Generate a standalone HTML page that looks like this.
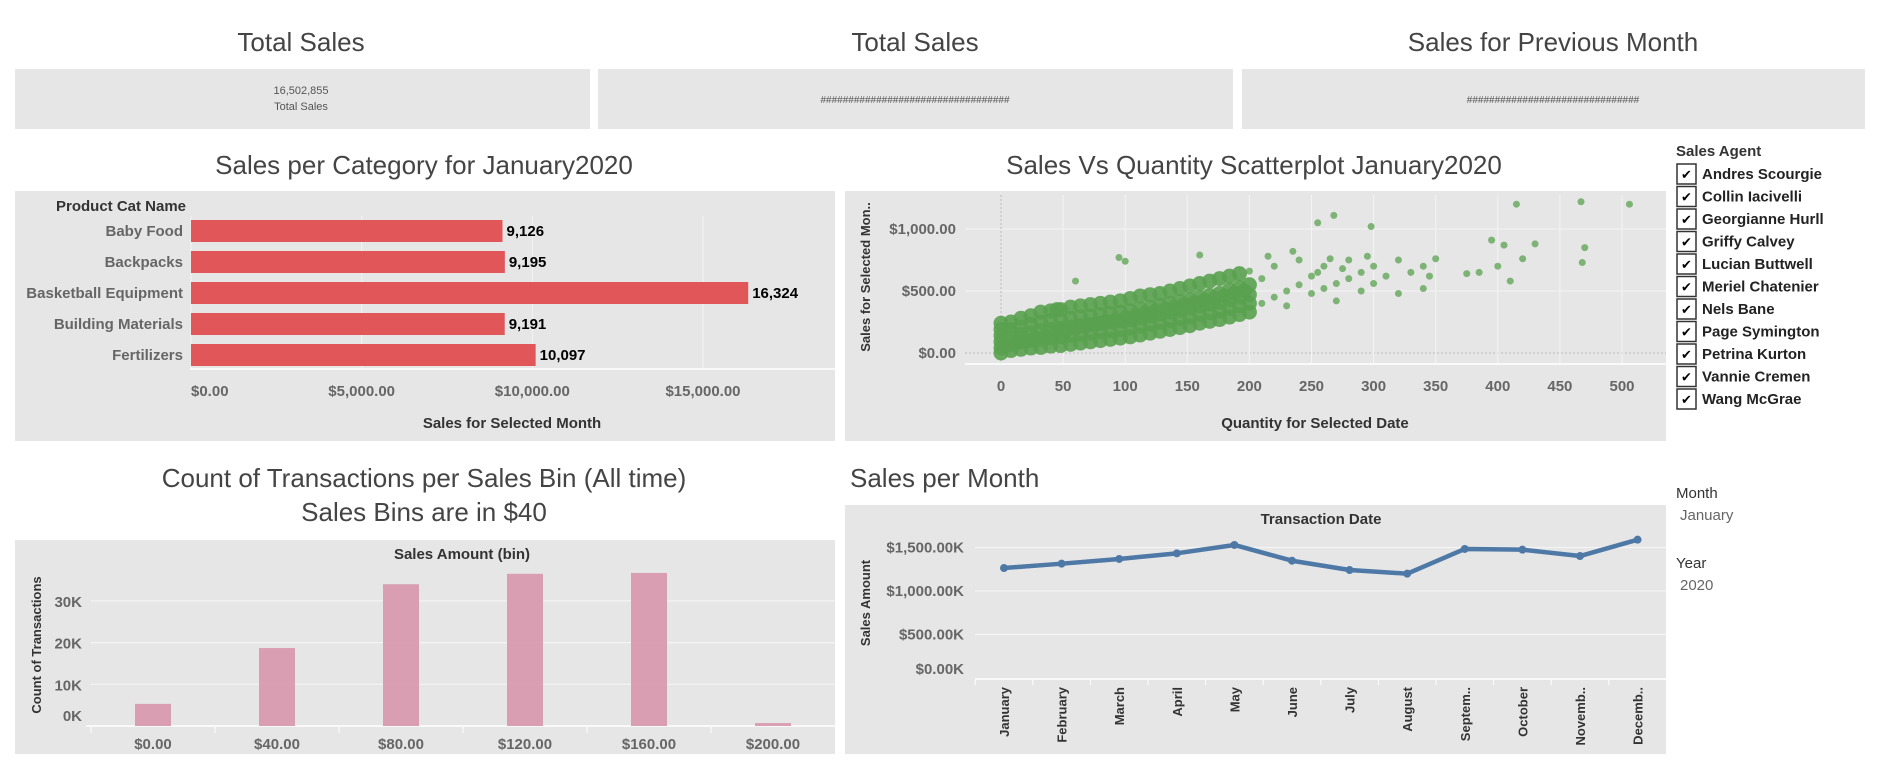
<!DOCTYPE html>
<html><head><meta charset="utf-8">
<style>
html,body{margin:0;padding:0;background:#fff;width:1880px;height:768px;overflow:hidden}
svg{display:block}
text{font-family:"Liberation Sans Narrow","Liberation Sans",sans-serif}
.ttl{font-size:26px;fill:#444;font-weight:normal}
.tk{font-size:15px;fill:#666;font-weight:bold}
.ax{font-size:15px;fill:#333;font-weight:bold}
.wide{font-family:"Liberation Sans",sans-serif;font-size:13px;fill:#333;font-weight:bold}
</style></head>
<body>
<svg id="dash" width="1880" height="768" xmlns="http://www.w3.org/2000/svg">
  <text class="ttl" x="301" y="51" text-anchor="middle">Total Sales</text>
  <text class="ttl" x="915" y="51" text-anchor="middle">Total Sales</text>
  <text class="ttl" x="1553" y="51" text-anchor="middle">Sales for Previous Month</text>
  <rect x="15" y="69" width="575" height="60" fill="#e6e6e6"/>
  <rect x="598" y="69" width="635" height="60" fill="#e6e6e6"/>
  <rect x="1242" y="69" width="623" height="60" fill="#e6e6e6"/>
  <text x="301" y="94" text-anchor="middle" font-size="11" fill="#555">16,502,855</text>
  <text x="301" y="110" text-anchor="middle" font-size="11" fill="#555">Total Sales</text>
  <text x="915" y="103" text-anchor="middle" font-size="10" fill="#555">##################################</text>
  <text x="1553" y="103" text-anchor="middle" font-size="10" fill="#555">###############################</text>

  <text class="ttl" x="424" y="174" text-anchor="middle">Sales per Category for January2020</text>
  <rect x="15" y="191" width="820" height="250" fill="#e6e6e6"/>
  <text class="ttl" x="1254" y="174" text-anchor="middle">Sales Vs Quantity Scatterplot January2020</text>
  <rect x="845" y="191" width="821" height="250" fill="#e6e6e6"/>
  <text class="ttl" x="424" y="487" text-anchor="middle">Count of Transactions per Sales Bin (All time)</text>
  <text class="ttl" x="424" y="521" text-anchor="middle">Sales Bins are in $40</text>
  <rect x="15" y="540" width="820" height="214" fill="#e6e6e6"/>
  <text class="ttl" x="850" y="487">Sales per Month</text>
  <rect x="845" y="505" width="821" height="249" fill="#e6e6e6"/>

  <g id="bars"></g><g id="scatter"></g><g id="hist"></g><g id="line"></g><g id="legend"></g>

  <text x="1676" y="498" font-size="15" fill="#333">Month</text>
  <text x="1680" y="520" font-size="15" fill="#666">January</text>
  <text x="1676" y="568" font-size="15" fill="#333">Year</text>
  <text x="1680" y="590" font-size="15" fill="#666">2020</text>
</svg>
<script>
const NS="http://www.w3.org/2000/svg";
const catNames=["Baby Food","Backpacks","Basketball Equipment","Building Materials","Fertilizers"];
const catSales=[9126,9195,16324,9191,10097];
const catTicks=[0,5000,10000,15000];
const catTickLabels=["$0.00","$5,000.00","$10,000.00","$15,000.00"];

const scatQty=[0,0,0,0,0,0,8,8,8,8,8,16,16,16,16,16,24,24,24,24,24,32,32,32,32,32,40,40,40,40,40,48,48,48,48,48,56,56,56,56,56,64,64,64,64,64,72,72,72,72,72,80,80,80,80,80,88,88,88,88,88,96,96,96,96,96,104,104,104,104,104,112,112,112,112,112,120,120,120,120,120,128,128,128,128,128,136,136,136,136,136,144,144,144,144,144,152,152,152,152,152,160,160,160,160,160,168,168,168,168,168,176,176,176,176,176,184,184,184,184,184,192,192,192,192,192,200,200,200,200,200,
210,210,220,220,230,230,240,240,250,250,260,260,270,270,280,280,290,290,300,300,310,320,320,330,340,340,350,345,215,235,255,275,295,265,
385,395,405,410,420,430,400,375,470,415,467,506,468,255,268,298,160,100,95,60,45,4,12,20,28,36,44,52,60,68,76,84,92,100,108,116,124,132,140,148,156,164,172,180,188,196];
const scatSales=[0,40,90,140,190,240,20,70,130,190,250,30,90,150,210,280,40,100,160,230,300,45,110,180,250,330,55,120,190,260,340,60,130,200,270,350,70,140,210,280,370,80,150,220,290,380,90,160,230,300,390,100,170,240,310,400,110,180,250,320,410,120,190,260,330,420,130,200,270,340,440,145,215,285,355,460,160,230,300,370,470,175,245,315,385,480,190,260,330,400,500,205,275,345,415,520,220,290,360,430,540,240,310,380,450,560,255,325,395,465,580,270,340,410,480,600,290,360,430,510,620,310,380,450,530,640,330,400,470,550,660,
400,600,450,700,500,380,550,750,480,620,520,700,560,420,600,750,650,500,700,560,620,750,480,650,700,520,760,620,780,820,650,680,780,760,
650,910,870,580,760,880,700,640,850,1200,1220,1200,730,1050,1110,1020,790,740,770,580,350,60,80,100,120,140,160,180,200,215,230,250,265,280,300,320,335,350,370,390,405,425,440,460,480,500];
const scatXTicks=[0,50,100,150,200,250,300,350,400,450,500];
const scatYTicks=[0,500,1000];
const scatYLabels=["$0.00","$500.00","$1,000.00"];

const binLabels=["$0.00","$40.00","$80.00","$120.00","$160.00","$200.00"];
const binCounts=[5300,18700,34000,36500,36700,700];
const binYTicks=[0,10000,20000,30000];
const binYLabels=["0K","10K","20K","30K"];

const months=["January","February","March","April","May","June","July","August","Septem..","October","Novemb..","Decemb.."];
const monthSales=[1264,1314,1368,1433,1529,1348,1241,1199,1483,1475,1402,1590];
const monthYTicks=[0,500,1000,1500];
const monthYLabels=["$0.00K","$500.00K","$1,000.00K","$1,500.00K"];

const agents=["Andres Scourgie","Collin Iacivelli","Georgianne Hurll","Griffy Calvey","Lucian Buttwell","Meriel Chatenier","Nels Bane","Page Symington","Petrina Kurton","Vannie Cremen","Wang McGrae"];

function mk(tag,attrs,parent,txt){const e=document.createElementNS(NS,tag);for(const k in attrs)e.setAttribute(k,attrs[k]);if(txt!==undefined)e.textContent=txt;parent.appendChild(e);return e;}

(function(){
const g=document.getElementById('bars');
const x=v=>191+v*(512/15000);
const rowY=i=>220+i*31;
let t=mk('text',{x:56,y:211,class:'ax'},g,'Product Cat Name');


catTicks.forEach((v,i)=>{
 let l=mk('line',{x1:x(v),x2:x(v),y1:216,y2:369,stroke:'#f4f4f4','stroke-width':1},g);
 
 
 let tl=mk('text',{x:x(v),y:396,class:'tk','text-anchor':i==0?'start':'middle'},g,catTickLabels[i]);
 
 
});
let b=mk('line',{x1:190,x2:835,y1:369,y2:369,stroke:'#fff','stroke-width':1.5},g);


catNames.forEach((n,i)=>{
 let r=mk('rect',{x:x(0),y:rowY(i),width:x(catSales[i])-x(0),height:22,fill:'#e15759'},g);
 
 
 let lb=mk('text',{x:183,y:rowY(i)+16,class:'tk','text-anchor':'end'},g,n);
 
 
 let vl=mk('text',{x:x(catSales[i])+4,y:rowY(i)+16,'font-size':15,'font-weight':'bold',fill:'#000'},g,catSales[i].toLocaleString('en-US'));
 
 
});
let at=mk('text',{x:512,y:428,class:'ax','text-anchor':'middle'},g,'Sales for Selected Month');


})();

(function(){
const g=document.getElementById('scatter');
const x=q=>1001+q*1.242;
const y=s=>353-s*0.124;
scatYTicks.forEach((v,i)=>{
 let l=mk('line',{x1:965,x2:1666,y1:y(v),y2:y(v),stroke:v==0?'#bbb':'#f4f4f4','stroke-width':1,'stroke-dasharray':v==0?'2,2':''},g);
 
 
 let tl=mk('text',{x:956,y:y(v)+5,class:'tk','text-anchor':'end'},g,scatYLabels[i]);
 
 
});
scatXTicks.forEach(v=>{
 let l=mk('line',{x1:x(v),x2:x(v),y1:195,y2:364,stroke:v==0?'#bbb':'#f4f4f4','stroke-width':1,'stroke-dasharray':v==0?'2,2':''},g);
 
 
 let tl=mk('text',{x:x(v),y:391,class:'tk','text-anchor':'middle'},g,String(v));
 
 
});
let bl=mk('line',{x1:965,x2:1666,y1:364,y2:364,stroke:'#fff','stroke-width':1.5},g);


scatQty.forEach((q,i)=>{
 const core=i<130||i>=185;
 let c=mk('circle',{cx:x(q),cy:y(scatSales[i]),r:core?7.5:3.5,fill:'#59a14f','fill-opacity':core?0.9:0.75},g);
 
 
});
let xt=mk('text',{x:1315,y:428,class:'ax','text-anchor':'middle'},g,'Quantity for Selected Date');


let yt=mk('text',{x:0,y:0,class:'wide',transform:'translate(870,277) rotate(-90)','text-anchor':'middle'},g,'Sales for Selected Mon..');


})();

(function(){
const g=document.getElementById('hist');
const x=i=>153+i*124;
const y=v=>726-v*(41.7/10000);
let h=mk('text',{x:462,y:559,class:'ax','text-anchor':'middle'},g,'Sales Amount (bin)');


binYTicks.forEach((v,i)=>{
 if(v>0){let l=mk('line',{x1:91,x2:835,y1:y(v),y2:y(v),stroke:'#f4f4f4','stroke-width':1.2},g);
 
 }
 let tl=mk('text',{x:82,y:v==0?721:y(v)+6,class:'tk','text-anchor':'end'},g,binYLabels[i]);
 
 
});
let bl=mk('line',{x1:86,x2:835,y1:726,y2:726,stroke:'#fff','stroke-width':1.5},g);


binLabels.forEach((lab,i)=>{
 let r=mk('rect',{x:x(i)-18,y:y(binCounts[i]),width:36,height:726-y(binCounts[i]),fill:'#d99aaf','fill-opacity':0.95},g);
 
 
 let tl=mk('text',{x:x(i),y:749,class:'tk','text-anchor':'middle'},g,lab);
 
 
 let tk=mk('line',{x1:x(i)-62,x2:x(i)-62,y1:727,y2:733,stroke:'#fff'},g);
 
 
});
let yt=mk('text',{x:0,y:0,class:'wide',transform:'translate(41,645) rotate(-90)','text-anchor':'middle'},g,'Count of Transactions');


})();

(function(){
const g=document.getElementById('line');
const x=i=>1004+i*57.6;
const y=v=>678-v*(43.5/500);
let h=mk('text',{x:1321,y:524,class:'ax','text-anchor':'middle'},g,'Transaction Date');


monthYTicks.forEach((v,i)=>{
 if(v>0){let l=mk('line',{x1:975,x2:1666,y1:y(v),y2:y(v),stroke:'#f4f4f4','stroke-width':1.2},g);
 
 }
 let tl=mk('text',{x:964,y:v==0?674:y(v)+5,class:'tk','text-anchor':'end'},g,monthYLabels[i]);
 
 
});
let bl=mk('line',{x1:975,x2:1666,y1:679,y2:679,stroke:'#fff','stroke-width':1.5},g);


let pts=monthSales.map((v,i)=>x(i)+','+y(v)).join(' ');
let pl=mk('polyline',{points:pts,fill:'none',stroke:'#4e79a7','stroke-width':4.5,'stroke-linejoin':'round'},g);


months.forEach((m,i)=>{
 let c=mk('circle',{cx:x(i),cy:y(monthSales[i]),r:4,fill:'#4e79a7'},g);
 
 
 let tl=mk('text',{x:0,y:0,class:'wide','font-size':13,fill:'#555',transform:'translate('+(x(i)+5)+',687) rotate(-90)','text-anchor':'end'},g,m);
 
 
 let tk=mk('line',{x1:x(i)-28.8,x2:x(i)-28.8,y1:680,y2:685,stroke:'#fff'},g);
 
 
});
let yt=mk('text',{x:0,y:0,class:'wide',transform:'translate(870,603) rotate(-90)','text-anchor':'middle'},g,'Sales Amount');


})();

(function(){
const g=document.getElementById('legend');
let h=mk('text',{x:1676,y:156,class:'ax'},g,'Sales Agent');


agents.forEach((a,i)=>{
 const cy=174+i*22.5;
 let b=mk('rect',{x:1677,y:cy-10,width:19,height:20,fill:'#fff',stroke:'#333','stroke-width':1.5},g);
 
 
 let c=mk('text',{x:1686.5,y:cy+5,'font-size':13,'text-anchor':'middle',fill:'#000','font-family':'DejaVu Sans'},g,'✔');
 
 
 let t=mk('text',{x:1702,y:cy+5,'font-size':15,'font-weight':'bold',fill:'#222'},g,a);
 
 
});
})();
</script>
</body></html>
